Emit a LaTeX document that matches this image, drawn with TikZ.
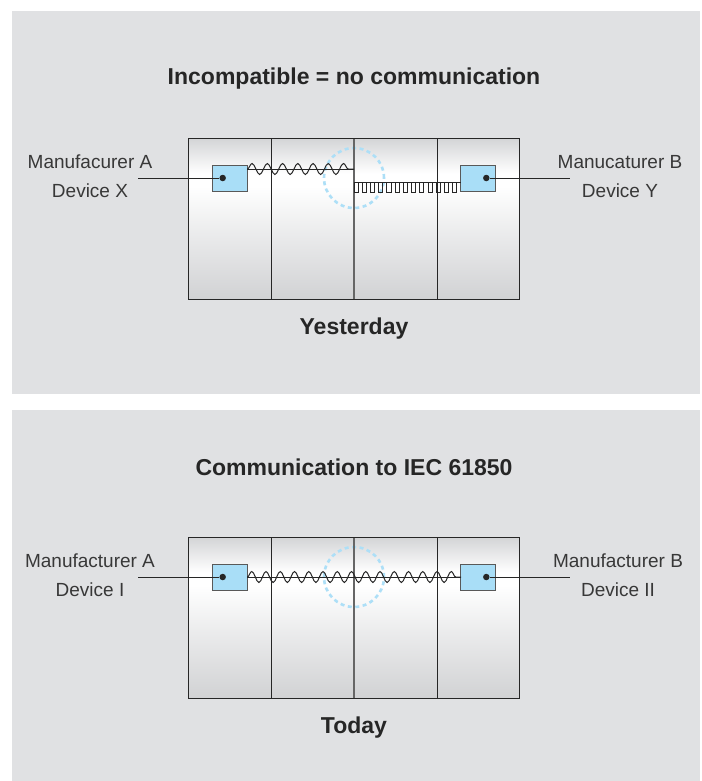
\documentclass[tikz,border=0pt]{standalone}
\usepackage{fontspec}
\setmainfont{Liberation Sans}
\usetikzlibrary{decorations.pathmorphing}

\definecolor{panelgray}{HTML}{E0E1E3}
\definecolor{boxtop}{HTML}{D3D4D6}
\definecolor{boxbot}{HTML}{D1D2D4}
\definecolor{devblue}{HTML}{A9DEF7}
\definecolor{ringblue}{HTML}{ADDFF7}
\definecolor{ink}{HTML}{262626}
\definecolor{labelink}{HTML}{383838}

% cabinet shading: grey on top, white at device height, grey at the foot
\pgfdeclareverticalshading{cabinet}{100bp}{color(0bp)=(boxbot); color(25bp)=(boxbot); color(45bp)=(white!55!boxbot); color(60bp)=(white); color(64bp)=(white); color(75bp)=(boxtop); color(100bp)=(boxtop)}

\tikzset{
  font=\fontsize{19}{29}\selectfont,
  heading/.style = {
    font=\fontsize{23}{27}\selectfont\bfseries,
    text=ink
  },
  devlabel/.style = {
    align=center,
    text=labelink
  },
  device/.style = {
    draw=black!65,
    line width=1pt,
    fill=devblue,
    minimum width=35pt,
    minimum height=26pt,
    inner sep=0pt
  },
  point/.style = {
    circle,
    fill=ink,
    inner sep=0pt,
    minimum size=6.5pt
  },
  divider/.style = {
    draw=ink,
    line width=1pt
  },
  ring/.style = {
    circle,
    draw=ringblue,
    line width=2.6pt,
    dash pattern=on 4pt off 3.5pt,
    minimum size=60pt,
    inner sep=0pt
  },
  wire/.style = {
    draw=ink,
    line width=1pt
  },
  wave/.style = {
    wire,
    decorate,
    decoration={snake, amplitude=5.5pt, segment length=#1}
  }
}

\begin{document}
\begin{tikzpicture}[x=1pt, y=-1pt]
  \useasboundingbox (0,0) rectangle (701,781);

  % ---- yesterday ----
  \fill[panelgray] (12,11) rectangle (700,394);
  \node[heading] (title1) at (354,79) {Incompatible = no communication};

  \shade[shading=cabinet] (188,138) rectangle (519,299);
  \node[ring] (gap1) at (354,178) {};
  \foreach \x in {271,437}
    \draw[divider] (\x,138) -- (\x,299);
  \draw[divider, draw=black!60, line width=1.8pt] (354,138) -- (354,299);
  \draw[divider] (188,138) rectangle (519,299);
  \node[heading] (yesterday) at (354,329) {Yesterday};

  \node[device] (devX) at (230,178) {};
  \node[device] (devY) at (478,178) {};

  \node[devlabel] (labX) at (90,176.5) {Manufacurer A\\Device X};
  \node[devlabel] (labY) at (620,176.5) {Manucaturer B\\Device Y};
  \coordinate (inX) at (138,178);
  \coordinate (outY) at (570,178);

  \node[point] (dotX) at (222.7,178) {};
  \node[point] (dotY) at (486.3,178) {};
  \draw[wire] (inX) -- (dotX);
  \draw[wire] (dotY) -- (outY);

  % sine from X up to the middle
  \coordinate (sineX) at (247.3,169);
  \coordinate (sineM) at (354,169);
  \draw[wire] (sineX) -- (sineM);
  \draw[wave=15.24pt] (sineX) -- (sineM);

  % square wave from the middle to Y
  \coordinate (sqM) at (354,182);
  \coordinate (sqY) at (461,182);
  \draw[wire] (sqM) -- (sqY);
  \foreach \i in {0,...,12}
    \draw[wire] (354+\i*8.23,182) -- ++(0,10) -- ++(4.115,0) -- ++(0,-10) -- ++(4.115,0);

  % ---- today ----
  \fill[panelgray] (12,410) rectangle (700,781);
  \node[heading] (title2) at (354,467) {Communication to IEC 61850};

  \shade[shading=cabinet] (188,537) rectangle (519,698);
  \node[ring] (gap2) at (354,577) {};
  \foreach \x in {271,437}
    \draw[divider] (\x,537) -- (\x,698);
  \draw[divider, draw=black!60, line width=1.8pt] (354,537) -- (354,698);
  \draw[divider] (188,537) rectangle (519,698);
  \node[heading] (today) at (354,728) {Today};

  \node[device] (devI) at (230,577) {};
  \node[device] (devII) at (478,577) {};

  \node[devlabel] (labI) at (90,575.5) {Manufacturer A\\Device I};
  \node[devlabel] (labII) at (618,575.5) {Manufacturer B\\Device II};
  \coordinate (inI) at (138,577);
  \coordinate (outII) at (570,577);

  \node[point] (dotI) at (222.7,577) {};
  \node[point] (dotII) at (486.3,577) {};
  \draw[wire] (inI) -- (dotI);
  \draw[wire] (dotII) -- (outII);

  \coordinate (sineI) at (247.3,577);
  \coordinate (sineII) at (461,577);
  \draw[wire] (sineI) -- (sineII);
  \draw[wave=14.25pt] (sineI) -- (sineII);
\end{tikzpicture}
\end{document}
